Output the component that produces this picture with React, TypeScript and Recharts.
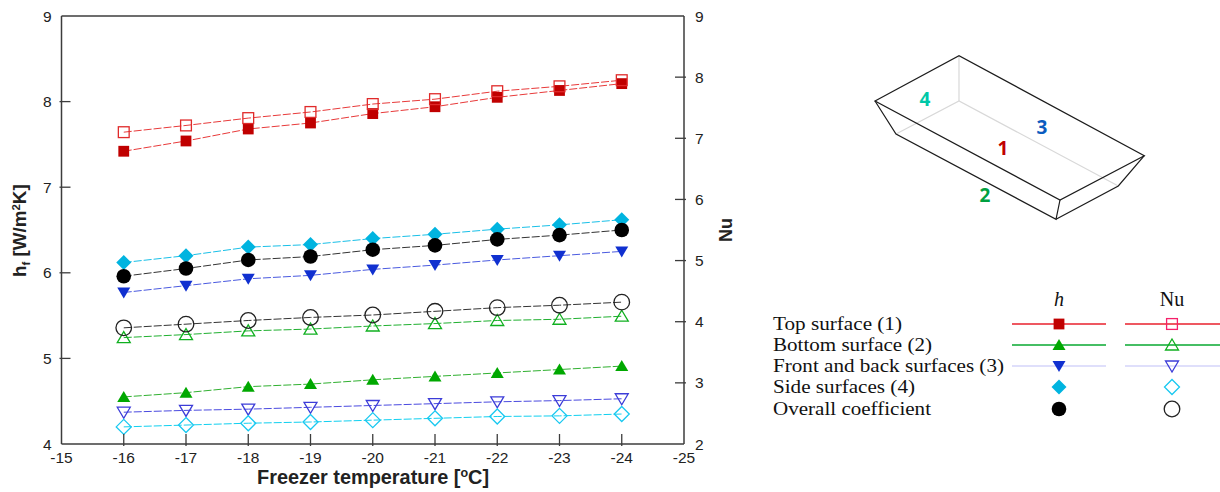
import React from 'react'
import { LineChart, Line, XAxis, YAxis, ReferenceLine } from 'recharts'

const temps = [-16, -17, -18, -19, -20, -21, -22, -23, -24]
const xTicks = [-15, -16, -17, -18, -19, -20, -21, -22, -23, -24, -25]
const leftTicks = [4, 5, 6, 7, 8, 9]
const rightTicks = [2, 3, 4, 5, 6, 7, 8, 9]

// h, left axis
const hTop = [7.42, 7.54, 7.68, 7.75, 7.86, 7.94, 8.05, 8.13, 8.21]
const hBottom = [4.55, 4.6, 4.67, 4.7, 4.75, 4.79, 4.83, 4.87, 4.91]
const hFront = [5.77, 5.85, 5.93, 5.97, 6.04, 6.09, 6.15, 6.2, 6.25]
const hSide = [6.12, 6.2, 6.3, 6.33, 6.4, 6.45, 6.51, 6.56, 6.62]
const hOverall = [5.96, 6.05, 6.15, 6.19, 6.27, 6.32, 6.39, 6.44, 6.5]

// Nu, right axis
const nuTop = [7.1, 7.21, 7.33, 7.43, 7.56, 7.64, 7.77, 7.85, 7.95]
const nuBottom = [3.74, 3.79, 3.85, 3.88, 3.93, 3.97, 4.02, 4.04, 4.09]
const nuFront = [2.52, 2.55, 2.57, 2.6, 2.63, 2.66, 2.69, 2.71, 2.74]
const nuSide = [2.28, 2.31, 2.34, 2.36, 2.39, 2.42, 2.45, 2.46, 2.49]
const nuOverall = [3.9, 3.96, 4.02, 4.07, 4.11, 4.17, 4.23, 4.27, 4.32]

const data = temps.map((t, i) => ({
  t,
  hTop: hTop[i],
  hBottom: hBottom[i],
  hFront: hFront[i],
  hSide: hSide[i],
  hOverall: hOverall[i],
  nuTop: nuTop[i],
  nuBottom: nuBottom[i],
  nuFront: nuFront[i],
  nuSide: nuSide[i],
  nuOverall: nuOverall[i],
}))

const legendRows = [
  { label: 'Top surface (1)', width: 129, shape: 'square', h: '#c00000', nu: '#f5206a', line: '#e8202c' },
  { label: 'Bottom surface (2)', width: 159, shape: 'up', h: '#00a800', nu: '#10b020', line: '#08a830' },
  { label: 'Front and back surfaces (3)', width: 231, shape: 'down', h: '#1030d0', nu: '#3c3cd8', line: '#d4d4fa' },
  { label: 'Side surfaces (4)', width: 142, shape: 'diamond', h: '#00b4e0', nu: '#18c8f0', line: 'none' },
  { label: 'Overall coefficient', width: 158, shape: 'circle', h: '#000000', nu: '#222222', line: 'none' },
]

const AXIS = '#3c3c3c'
const SANS = '"Liberation Sans", Arial, sans-serif'
const SERIF = '"Liberation Serif", "Times New Roman", serif'

function Marker({ cx, cy, shape, color, open }: any) {
  const paint = open
    ? { fill: 'none', stroke: color, strokeWidth: 1.3 }
    : { fill: color, stroke: 'none' }
  if (shape === 'square') {
    return <rect x={cx - 5.4} y={cy - 5.4} width={10.8} height={10.8} {...paint} />
  }
  if (shape === 'up') {
    const p = `${cx},${cy - 6} ${cx + 6.5},${cy + 5} ${cx - 6.5},${cy + 5}`
    return <polygon points={p} {...paint} />
  }
  if (shape === 'down') {
    const p = `${cx - 6.5},${cy - 5} ${cx + 6.5},${cy - 5} ${cx},${cy + 6}`
    return <polygon points={p} {...paint} />
  }
  if (shape === 'diamond') {
    const p = `${cx},${cy - 7.5} ${cx + 7.5},${cy} ${cx},${cy + 7.5} ${cx - 7.5},${cy}`
    return <polygon points={p} {...paint} />
  }
  return <circle cx={cx} cy={cy} r={open ? 7.8 : 7.3} {...paint} />
}

function dotFor(shape: string, color: string, open: boolean) {
  return (p: any) => (
    <Marker key={p.index} cx={p.cx} cy={p.cy} shape={shape} color={color} open={open} />
  )
}

function BottomTick({ x, y, payload }: any) {
  const inner = payload.value !== -15 && payload.value !== -25
  return (
    <g>
      {inner && <line x1={x} x2={x} y1={y} y2={y - 12} stroke={AXIS} strokeWidth={1.3} />}
      <text x={x} y={y + 16.5} textAnchor='middle' fontSize={15.5} fontFamily={SANS} fill='#222'>
        {payload.value}
      </text>
    </g>
  )
}

function LeftTick({ x, y, payload }: any) {
  const inner = payload.value !== 4 && payload.value !== 9
  return (
    <g>
      {inner && <line x1={x} x2={x + 11} y1={y} y2={y} stroke={AXIS} strokeWidth={1.3} />}
      <text x={x - 8} y={y + 5.5} textAnchor='end' fontSize={15.5} fontFamily={SANS} fill='#222'>
        {payload.value}
      </text>
    </g>
  )
}

function RightTick({ x, y, payload }: any) {
  const inner = payload.value !== 2 && payload.value !== 9
  return (
    <g>
      {inner && <line x1={x} x2={x - 11} y1={y} y2={y} stroke={AXIS} strokeWidth={1.3} />}
      <text x={x + 9} y={y + 5.5} textAnchor='start' fontSize={15.5} fontFamily={SANS} fill='#222'>
        {payload.value}
      </text>
    </g>
  )
}

function Sketch() {
  const black = [
    'M875 101 L959 55.7 L1144.3 155.7 L1060 200 Z',
    'M875 101 L896 134 L1056 219.3 L1060 200',
    'M1056 219.3 L1118.3 186 L1144.3 155.7',
  ]
  const gray = ['M959 55.7 L959 101', 'M896 134 L959 101 L1118.3 186']
  const nums = [
    { t: '4', x: 925, y: 106, c: '#00c8a8' },
    { t: '3', x: 1042, y: 134, c: '#0b5cbf' },
    { t: '1', x: 1003, y: 155, c: '#c00000' },
    { t: '2', x: 985, y: 202, c: '#00a040' },
  ]
  return (
    <g>
      {gray.map((d) => (
        <path key={d} d={d} fill='none' stroke='#d8d8d8' strokeWidth={1.2} />
      ))}
      {black.map((d) => (
        <path key={d} d={d} fill='none' stroke='#1c1c1c' strokeWidth={1.2} />
      ))}
      {nums.map((n) => (
        <text key={n.t} x={n.x} y={n.y} textAnchor='middle' fontSize={19} fontWeight='bold' fontFamily='"Open Sans", sans-serif' fill={n.c}>
          {n.t}
        </text>
      ))}
    </g>
  )
}

function Overlay() {
  return (
    <svg width={1220} height={492} style={{ position: 'absolute', left: 0, top: 0 }}>
      <text x={257} y={484} fontSize={19.9} fontWeight='bold' fontFamily={SANS} fill='#222'>
        Freezer temperature [<tspan dy={-7} fontSize={12.5}>o</tspan><tspan dy={7}>C]</tspan>
      </text>
      <text transform='translate(26,277) rotate(-90)' fontSize={18.8} fontWeight='bold' fontFamily={SANS} fill='#222'>
        h<tspan dy={4} fontSize={11.5}>f</tspan><tspan dy={-4}> [W/m</tspan><tspan dy={-6.5} fontSize={11.5}>2</tspan><tspan dy={6.5}>K]</tspan>
      </text>
      <text transform='translate(732,242) rotate(-90)' fontSize={18} fontWeight='bold' fontFamily={SANS} fill='#222'>
        Nu
      </text>

      <text x={1059} y={306} textAnchor='middle' fontSize={20} fontStyle='italic' fontFamily={SERIF} fill='#111'>h</text>
      <text x={1172} y={306} textAnchor='middle' fontSize={20} fontFamily={SERIF} fill='#111'>Nu</text>
      {legendRows.map((r, i) => {
        const y = [324, 345, 366, 387, 409][i]
        return (
          <g key={r.label}>
            <text x={773} y={y + 6} fontSize={18} textLength={r.width} lengthAdjust='spacingAndGlyphs' fontFamily={SERIF} fill='#111'>
              {r.label}
            </text>
            {r.line !== 'none' && (
              <>
                <line x1={1012} x2={1106} y1={y} y2={y} stroke={r.line} strokeWidth={1.4} />
                <line x1={1125} x2={1220} y1={y} y2={y} stroke={r.line} strokeWidth={1.4} />
              </>
            )}
            <Marker cx={1059} cy={y} shape={r.shape} color={r.h} open={false} />
            <Marker cx={1172} cy={y} shape={r.shape} color={r.nu} open={true} />
          </g>
        )
      })}
      <Sketch />
    </svg>
  )
}

export default function App() {
  const common = { type: 'linear' as const, strokeWidth: 1, strokeDasharray: '8 2', isAnimationActive: false }
  return (
    <div style={{ position: 'absolute', left: 0, top: 0, width: 1220, height: 492, background: '#fff' }}>
      <LineChart width={1220} height={492} data={data} margin={{ top: 16, right: 496, bottom: 0, left: 0 }}>
        <XAxis
          dataKey='t'
          type='number'
          domain={[-25, -15]}
          reversed
          ticks={xTicks}
          interval={0}
          height={48}
          tick={<BottomTick />}
          tickLine={false}
          tickSize={0}
          axisLine={{ stroke: AXIS, strokeWidth: 1.5 }}
        />
        <YAxis
          yAxisId='left'
          domain={[4, 9]}
          ticks={leftTicks}
          interval={0}
          width={61.5}
          tick={<LeftTick />}
          tickLine={false}
          tickSize={0}
          axisLine={{ stroke: AXIS, strokeWidth: 1.5 }}
        />
        <YAxis
          yAxisId='right'
          orientation='right'
          domain={[2, 9]}
          ticks={rightTicks}
          interval={0}
          width={40}
          tick={<RightTick />}
          tickLine={false}
          tickSize={0}
          axisLine={{ stroke: AXIS, strokeWidth: 1.5 }}
        />
        <ReferenceLine yAxisId='left' y={9} stroke={AXIS} strokeWidth={1.5} />

        <Line {...common} yAxisId='left' dataKey='hTop' stroke='#e83a3a' dot={dotFor('square', '#c00000', false)} />
        <Line {...common} yAxisId='left' dataKey='hBottom' stroke='#30b030' dot={dotFor('up', '#00a800', false)} />
        <Line {...common} yAxisId='left' dataKey='hFront' stroke='#4a5ae0' dot={dotFor('down', '#1030d0', false)} />
        <Line {...common} yAxisId='left' dataKey='hSide' stroke='#18c0e8' dot={dotFor('diamond', '#00b4e0', false)} />
        <Line {...common} yAxisId='left' dataKey='hOverall' stroke='#333333' dot={dotFor('circle', '#000000', false)} />

        <Line {...common} yAxisId='right' dataKey='nuTop' stroke='#e83a3a' dot={dotFor('square', '#e02a2a', true)} />
        <Line {...common} yAxisId='right' dataKey='nuBottom' stroke='#20b030' dot={dotFor('up', '#10b020', true)} />
        <Line {...common} yAxisId='right' dataKey='nuFront' stroke='#4a4ae0' dot={dotFor('down', '#3c3cd8', true)} />
        <Line {...common} yAxisId='right' dataKey='nuSide' stroke='#10d0f0' dot={dotFor('diamond', '#18c8f0', true)} />
        <Line {...common} yAxisId='right' dataKey='nuOverall' stroke='#333333' dot={dotFor('circle', '#222222', true)} />
      </LineChart>
      <Overlay />
    </div>
  )
}
